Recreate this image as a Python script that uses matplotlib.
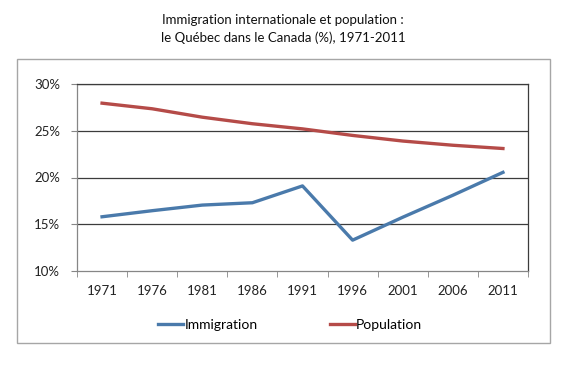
import matplotlib.pyplot as plt
from matplotlib.patches import Rectangle

plt.rcParams['font.family'] = ['Lato', 'DejaVu Sans']

# data (% of Canada)
years = ['1971', '1976', '1981', '1986', '1991', '1996', '2001', '2006', '2011']
immigration = [15.8, 16.45, 17.05, 17.3, 19.1, 13.3, 15.75, 18.1, 20.55]
population = [27.95, 27.35, 26.45, 25.75, 25.2, 24.5, 23.9, 23.45, 23.1]
y_ticks = [10, 15, 20, 25, 30]

fig = plt.figure(figsize=(5.7, 3.7), dpi=100)
W, H = 570, 370

# outer chart frame
fig.patches.append(Rectangle((17 / W, 1 - 343 / H), (550 - 17) / W, (343 - 59) / H,
                             transform=fig.transFigure, fill=False,
                             edgecolor='#a6a6a6', linewidth=1.0))

ax = fig.add_axes([77 / W, 1 - 271 / H, (528 - 77) / W, (271 - 84) / H])

x = list(range(len(years)))
ax.plot(x, immigration, color='#4a7aab', linewidth=2.4, label='Immigration')
ax.plot(x, population, color='#b54b48', linewidth=2.4, label='Population')

ax.set_xlim(-0.5, len(years) - 0.5)
ax.set_ylim(10, 30)
ax.set_yticks(y_ticks)
ax.set_yticklabels([f'{v}%' for v in y_ticks])
ax.set_xticks(x)
ax.set_xticklabels(years)
ax.set_xticks([i + 0.5 for i in range(-1, len(years))], minor=True)
ax.tick_params(axis='x', which='major', length=0, pad=10, labelsize=9.5, colors='#222222')
ax.tick_params(axis='x', which='minor', length=4, color='#868686')
ax.tick_params(axis='y', length=4, color='#868686', labelsize=9.5, pad=8)
ax.tick_params(axis='y', labelcolor='#222222')

for v in y_ticks[1:]:
    ax.axhline(v, color='#3c3c3c', linewidth=0.9, zorder=0)
for s in ax.spines.values():
    s.set_color('#868686')
    s.set_linewidth(0.9)
ax.spines['right'].set_color('#3c3c3c')
ax.spines['top'].set_color('#3c3c3c')

fig.text(283 / W, 1 - 20 / H, 'Immigration internationale et population :',
         ha='center', va='center', fontsize=9.5, color='#111111')
fig.text(283 / W, 1 - 38 / H, 'le Québec dans le Canada (%), 1971-2011',
         ha='center', va='center', fontsize=9.5, color='#111111')

fig.legend(loc='center', bbox_to_anchor=(290 / W, 1 - 325 / H), ncol=2,
           frameon=False, fontsize=10, handlelength=1.8, handletextpad=0.1,
           columnspacing=5.2)

fig.savefig('out.png', dpi=100)
